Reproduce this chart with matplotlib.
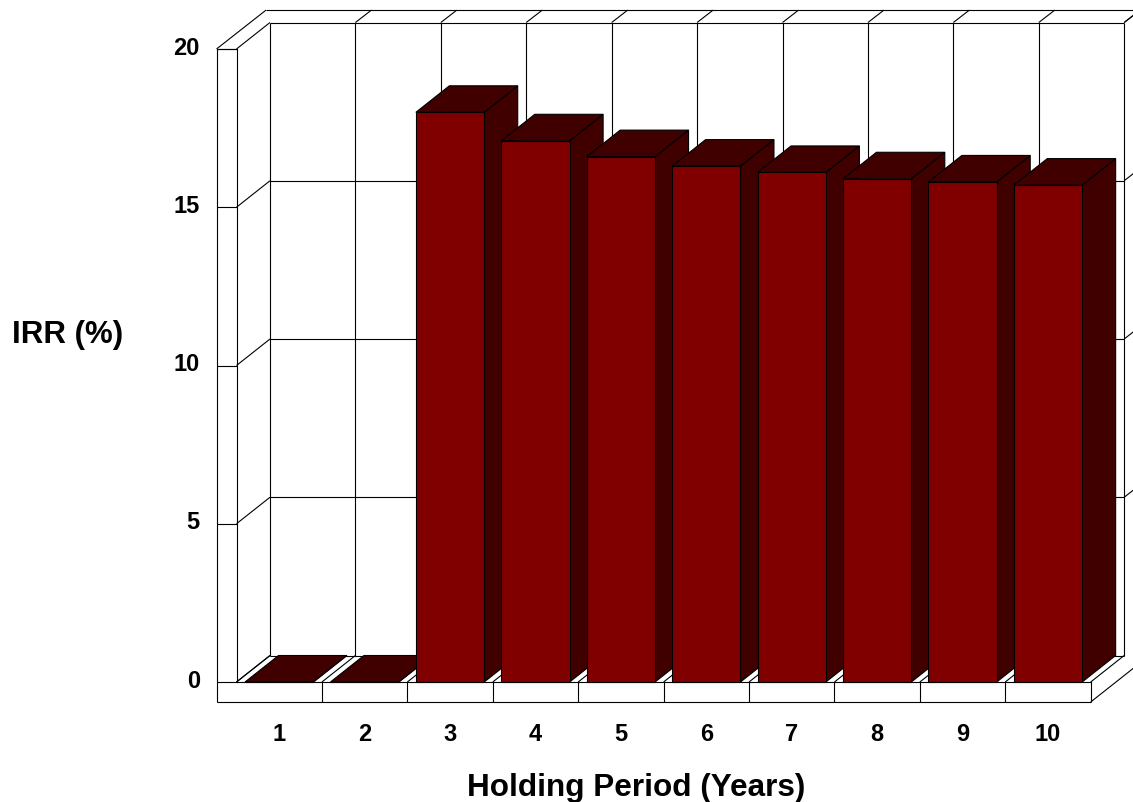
import matplotlib
matplotlib.use('Agg')
import matplotlib.pyplot as plt
from matplotlib.transforms import ScaledTranslation

# Data
years = [1, 2, 3, 4, 5, 6, 7, 8, 9, 10]
irr = [0, 0, 18.0, 17.1, 16.6, 16.3, 16.1, 15.9, 15.8, 15.7]
y_ticks = [0, 5, 10, 15, 20]

# Colours
FRONT = '#800000'
DARK = '#400000'
LINE = '#000000'
LW = 0.8

# Depth of the 3D box, in axis units
DX = 0.392
DY = 0.837
OUT_DX = 0.58
OUT_DY = 1.23
WALL_X = 0.234
WALL_Y = 0.632
BAR_W = 0.8

plt.rcParams['font.family'] = ['Liberation Sans', 'DejaVu Sans']
plt.rcParams['font.weight'] = 'bold'

fig = plt.figure(figsize=(11.33, 8.02), dpi=100)
ax = fig.add_axes([236.5 / 1133, 120 / 802, 854.2 / 1133, 633 / 802])
ax.set_xlim(0.5, 10.5)
ax.set_ylim(0, 20)


def line(xs, ys, z=1):
    ax.plot(xs, ys, color=LINE, lw=LW, clip_on=False, zorder=z, solid_capstyle='butt')


left = 0.5
right = 10.5
top = y_ticks[-1]

# Back wall and its grid
for y in y_ticks:
    line([left, left + DX], [y, y + DY])
    line([left + DX, right + DX], [y + DY, y + DY])
    if y > 0:
        line([right + DX, right + OUT_DX + 0.2], [y + DY, y + OUT_DY + 0.2 * DY / DX])

for i in range(len(years) + 1):
    x = left + i
    line([x + DX, x + DX], [DY, top + DY])
    line([x, x + DX], [0, DY])
    if i > 0:
        line([x + DX, x + OUT_DX], [top + DY, top + OUT_DY])

# Outer panel round the walls
line([left - WALL_X, left - WALL_X], [-WALL_Y, top])
line([left - WALL_X, right], [-WALL_Y, -WALL_Y])
line([left - WALL_X, left], [top, top])
line([left - WALL_X, left - WALL_X + OUT_DX], [top, top + OUT_DY])
line([left - WALL_X + OUT_DX, right + 1], [top + OUT_DY, top + OUT_DY])
line([right, right + 0.6], [-WALL_Y, -WALL_Y + 0.6 * DY / DX])

# Bars, drawn left to right so each front covers the side before it
for i, (yr, val) in enumerate(zip(years, irr)):
    z = 3 + i
    x0 = yr - BAR_W / 2
    x1 = yr + BAR_W / 2
    ax.fill([x1, x1 + DX, x1 + DX, x1], [0, DY, val + DY, val],
            facecolor=DARK, edgecolor=LINE, lw=LW, clip_on=False, zorder=z)
    ax.fill([x0, x1, x1 + DX, x0 + DX], [val, val, val + DY, val + DY],
            facecolor=DARK, edgecolor=LINE, lw=LW, clip_on=False, zorder=z)
    ax.bar(yr, val, width=BAR_W, color=FRONT, edgecolor=LINE, lw=LW,
           clip_on=False, zorder=z)

# Axes, ticks and labels
for side in ['top', 'right']:
    ax.spines[side].set_visible(False)
for side in ['left', 'bottom']:
    ax.spines[side].set_linewidth(LW)

ax.set_xticks(years)
ax.set_xticks([y + 0.5 for y in years], minor=True)
ax.set_yticks(y_ticks)
ax.tick_params(axis='x', which='major', length=0, pad=29.5, labelsize=17)
ax.tick_params(axis='x', which='minor', length=14.4, width=LW)
ax.tick_params(axis='y', length=14.4, width=LW, pad=12, labelsize=17)

shift = ScaledTranslation(0, 2.5 / 72, fig.dpi_scale_trans)
for lab in ax.get_yticklabels():
    lab.set_transform(lab.get_transform() + shift)

ax.set_xlabel('Holding Period (Years)', fontsize=22.7, fontweight='bold', va='center')
ax.xaxis.set_label_coords(0.4677, -0.168)
ax.set_ylabel('IRR (%)', fontsize=22.5, fontweight='bold', rotation=0, va='center', ha='center')
ax.yaxis.set_label_coords(-0.198, 0.5485)

fig.savefig('out.png', dpi=100)
